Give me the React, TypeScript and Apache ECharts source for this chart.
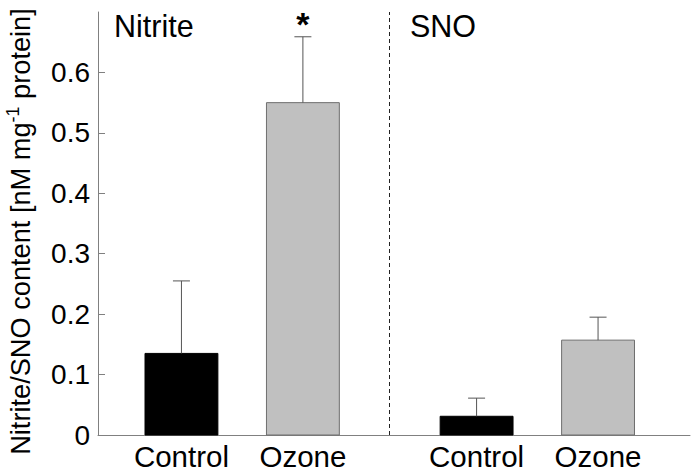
import React, { useEffect, useRef } from "react";
import * as echarts from "echarts";

const categories = ["Control", "Ozone", "Control", "Ozone"];
const xPositions = [1, 2, 3.43, 4.43];
const values = [0.135, 0.55, 0.031, 0.157];
const errors = [0.12, 0.109, 0.03, 0.038];
const significance = ["", "*", "", ""];
const barColors = ["#000000", "#c0c0c0", "#000000", "#c0c0c0"];
const barBorders = ["#000000", "#6e6e6e", "#000000", "#6e6e6e"];
const yTickValues = [0, 0.1, 0.2, 0.3, 0.4, 0.5, 0.6];
const groupTitles = ["Nitrite", "SNO"];
const dividerX = 2.715;

const FONT = "'Liberation Sans', Arial, sans-serif";

export default function App() {
  const ref = useRef<HTMLDivElement>(null);
  useEffect(() => {
    if (!ref.current) return;
    const chart = echarts.init(ref.current, undefined, { renderer: "svg" });
    const data = xPositions.map((x, i) => [x, values[i], errors[i], i]);
    chart.setOption({
      animation: false,
      grid: { left: 98, right: 3, top: 12, bottom: 38, containLabel: false, outerBoundsMode: "none" },
      xAxis: {
        type: "value",
        min: 0.313,
        max: 5.187,
        axisLine: { show: true, onZero: false, lineStyle: { color: "#808080", width: 1 } },
        axisTick: { show: false },
        axisLabel: { show: false },
        splitLine: { show: false },
      },
      yAxis: {
        type: "value",
        min: 0,
        max: 0.7,
        interval: 0.1,
        axisLine: { show: true, lineStyle: { color: "#808080", width: 1 } },
        axisTick: {
          show: true,
          inside: true,
          length: 7,
          customValues: yTickValues,
          lineStyle: { color: "#808080" },
        },
        axisLabel: {
          customValues: yTickValues,
          margin: 8,
          fontSize: 28,
          fontFamily: FONT,
          color: "#000",
          formatter: (v: number) => (v === 0 ? "0" : v.toFixed(1)),
        },
        splitLine: { show: false },
        name: "Nitrite/SNO content [nM mg{sup|-1} protein]",
        nameLocation: "middle",
        nameGap: 62,
        nameTextStyle: {
          fontSize: 27.2,
          fontFamily: FONT,
          color: "#000",
          lineHeight: 32,
          padding: [0, 16, 0, 0],
          rich: {
            sup: { fontSize: 18, fontFamily: FONT, color: "#000", verticalAlign: "top", lineHeight: 32 },
          },
        },
      },
      graphic: [
        {
          type: "text",
          left: 114,
          top: 10,
          style: { text: groupTitles[0], fontSize: 30.5, fontFamily: FONT, fill: "#000" },
        },
        {
          type: "text",
          left: 410,
          top: 10,
          style: { text: groupTitles[1], fontSize: 30.5, fontFamily: FONT, fill: "#000" },
        },
      ],
      series: [
        {
          type: "custom",
          clip: false,
          data,
          encode: { x: 0, y: 1 },
          renderItem: (params: any, api: any) => {
            const x = api.value(0);
            const v = api.value(1);
            const e = api.value(2);
            const i = api.value(3);
            const half = 0.3;
            const tl = api.coord([x - half, v]);
            const br = api.coord([x + half, 0]);
            const top = api.coord([x, v]);
            const errTop = api.coord([x, v + e]);
            const base = api.coord([x, 0]);
            const children: any[] = [
              {
                type: "rect",
                shape: { x: tl[0], y: tl[1], width: br[0] - tl[0], height: br[1] - tl[1] },
                style: { fill: barColors[i], stroke: barBorders[i], lineWidth: 1 },
              },
              {
                type: "line",
                shape: { x1: top[0], y1: top[1], x2: errTop[0], y2: errTop[1] },
                style: { stroke: "#555", lineWidth: 1 },
              },
              {
                type: "line",
                shape: { x1: errTop[0] - 8.5, y1: errTop[1], x2: errTop[0] + 8.5, y2: errTop[1] },
                style: { stroke: "#555", lineWidth: 1 },
              },
              {
                type: "text",
                style: {
                  text: categories[i],
                  x: base[0],
                  y: base[1] + 6,
                  align: "center",
                  verticalAlign: "top",
                  fontSize: 29.5,
                  fontFamily: FONT,
                  fill: "#000",
                },
              },
            ];
            if (significance[i]) {
              children.push({
                type: "text",
                style: {
                  text: significance[i],
                  x: errTop[0],
                  y: errTop[1] + 4,
                  align: "center",
                  verticalAlign: "bottom",
                  fontSize: 34,
                  fontWeight: "bold",
                  fontFamily: FONT,
                  fill: "#000",
                },
              });
            }
            return { type: "group", children };
          },
          markLine: {
            silent: true,
            symbol: "none",
            label: { show: false },
            lineStyle: { color: "#222", type: [4, 3], width: 1 },
            data: [{ xAxis: dividerX }],
          },
        },
      ],
    });
    return () => chart.dispose();
  }, []);
  return (
    <div
      ref={ref}
      style={{ position: "fixed", left: 0, top: 0, width: 693, height: 473, background: "#fff" }}
    />
  );
}
